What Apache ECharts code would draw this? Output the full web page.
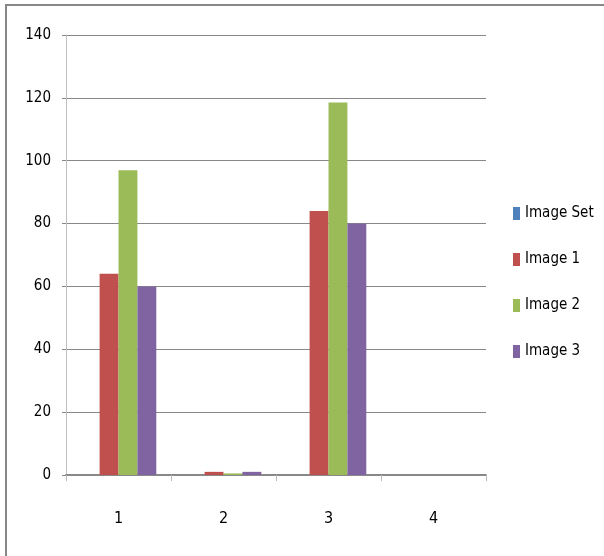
<!DOCTYPE html>
<html>
<head>
<meta charset="utf-8">
<style>
  html, body { margin: 0; padding: 0; background: #fff; }
  #chart { width: 604px; height: 556px; }
</style>
<script src="https://cdn.jsdelivr.net/npm/echarts@6/dist/echarts.min.js"></script>
</head>
<body>
<div id="chart"></div>
<script>
// Category labels along the x axis
const categories = ['1', '2', '3', '4'];

// Series values per category
const imageSet = [0, 0, 0, 0];
const image1 = [64, 1, 84, 0];
const image2 = [97, 0.5, 118.5, 0];
const image3 = [60, 1, 80, 0];

// Value axis range
const yMin = 0;
const yMax = 140;
const yStep = 20;

const FONT = "'DejaVu Sans Condensed', 'Liberation Sans Narrow', sans-serif";

const chart = echarts.init(document.getElementById('chart'), null, { renderer: 'canvas' });

function bar(name, data, color) {
  return {
    name: name,
    type: 'bar',
    data: data,
    barGap: '0%',
    barCategoryGap: '28%',
    itemStyle: { color: color },
    emphasis: { disabled: true }
  };
}

chart.setOption({
  animation: false,
  backgroundColor: '#ffffff',
  textStyle: { fontFamily: FONT },
  graphic: [{
    type: 'rect',
    shape: { x: 6, y: 5, width: 700, height: 700 },
    style: { fill: 'none', stroke: '#888888', lineWidth: 2 },
    silent: true
  }],
  grid: { left: 66, right: 118, top: 35, bottom: 81 },
  legend: {
    orient: 'vertical',
    left: 513,
    top: 206,
    padding: 0,
    itemWidth: 7,
    itemHeight: 13,
    itemGap: 31,
    icon: 'rect',
    textStyle: { fontFamily: FONT, fontSize: 15, color: '#000' },
    data: ['Image Set', 'Image 1', 'Image 2', 'Image 3']
  },
  xAxis: {
    type: 'category',
    data: categories,
    axisLine: { lineStyle: { color: '#888888', width: 2 } },
    axisTick: { show: true, length: 6, lineStyle: { color: '#bbbbbb' } },
    axisLabel: { margin: 36, fontFamily: FONT, fontSize: 16, color: '#000' },
    splitLine: { show: false }
  },
  yAxis: {
    type: 'value',
    min: yMin,
    max: yMax,
    interval: yStep,
    axisLine: { show: true, lineStyle: { color: '#c0c0c0', width: 1 } },
    axisTick: { show: true, length: 4, lineStyle: { color: '#888888' } },
    axisLabel: { margin: 15, fontFamily: FONT, fontSize: 15, color: '#000' },
    splitLine: { show: true, lineStyle: { color: '#888888', width: 1 } }
  },
  series: [
    bar('Image Set', imageSet, '#4F81BD'),
    bar('Image 1', image1, '#C0504D'),
    bar('Image 2', image2, '#9BBB59'),
    bar('Image 3', image3, '#8064A2')
  ]
});
</script>
</body>
</html>
